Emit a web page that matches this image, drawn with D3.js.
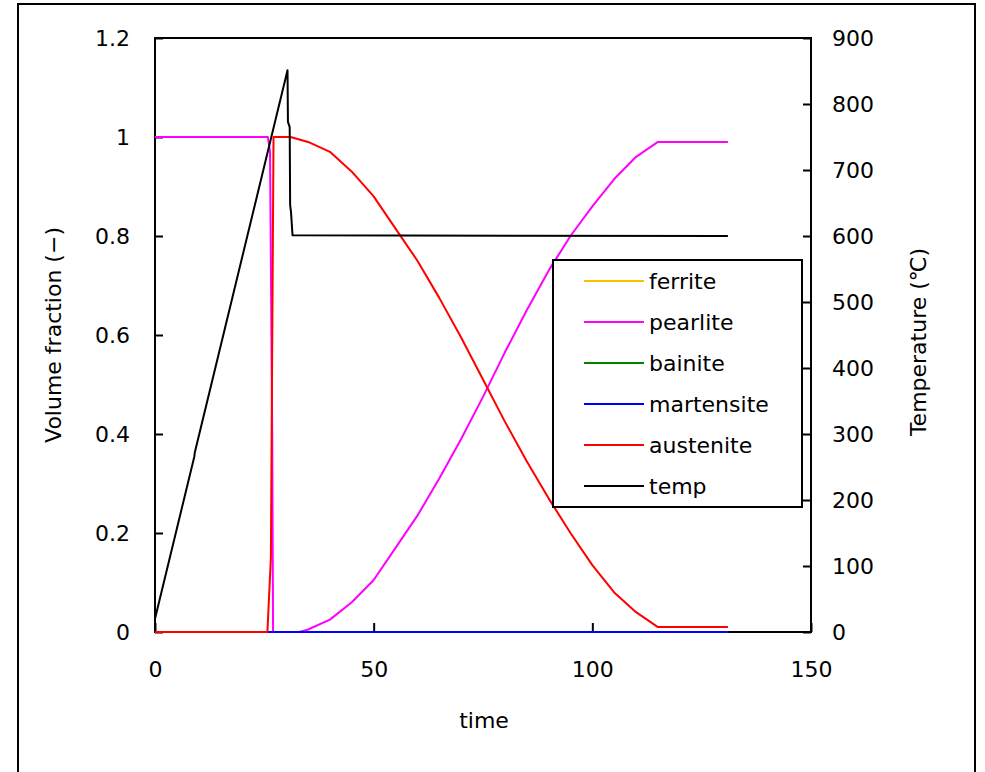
<!DOCTYPE html>
<html>
<head>
<meta charset="utf-8">
<script src="https://cdn.jsdelivr.net/npm/d3@7"></script>
<style>
  html, body { margin: 0; padding: 0; background: #fff; }
  svg text { font-family: "DejaVu Sans", sans-serif; fill: #000; }
</style>
</head>
<body>
<svg id="chart" width="985" height="772"></svg>
<script>
// Phase fractions (left axis) and temperature (right axis) against time
const seriesNames = ["ferrite", "pearlite", "bainite", "martensite", "austenite", "temp"];
const seriesColors = ["#FFC000", "#FF00FF", "#008000", "#0000FF", "#FF0000", "#000000"];

const ferriteTime = [0, 131];
const ferriteFrac = [0, 0];

const pearliteTime = [0, 25.8, 26.3, 26.8, 27.0, 33, 35, 40, 45, 50, 55, 60, 65, 70, 75, 80, 85, 90, 95, 100, 105, 110, 115, 131];
const pearliteFrac = [1, 1, 0.97, 0.4, 0, 0, 0.005, 0.025, 0.06, 0.105, 0.17, 0.235, 0.31, 0.39, 0.475, 0.565, 0.65, 0.73, 0.8, 0.86, 0.915, 0.96, 0.99, 0.99];

const bainiteTime = [0, 131];
const bainiteFrac = [0, 0];

const martensiteTime = [0, 131];
const martensiteFrac = [0, 0];

const austeniteTime = [0, 25.7, 26.5, 27.1, 31, 35, 40, 45, 50, 55, 60, 65, 70, 75, 80, 85, 90, 95, 100, 105, 110, 115, 131];
const austeniteFrac = [0, 0, 0.15, 1, 1, 0.99, 0.97, 0.93, 0.88, 0.815, 0.75, 0.675, 0.595, 0.51, 0.425, 0.345, 0.27, 0.2, 0.135, 0.08, 0.04, 0.01, 0.01];

const tempTime = [0, 9, 9.1, 30.3, 30.4, 30.8, 30.9, 31.1, 31.45, 131];
const tempValue = [20, 266, 272, 851, 773, 765, 647, 636, 601, 600];

const xTicks = [0, 50, 100, 150];
const yLeftTicks = [0, 0.2, 0.4, 0.6, 0.8, 1, 1.2];
const yRightTicks = [0, 100, 200, 300, 400, 500, 600, 700, 800, 900];

const svg = d3.select("#chart");
const plot = { left: 155, right: 811, top: 38, bottom: 632 };

const x = d3.scaleLinear().domain([0, 150]).range([plot.left, plot.right]);
const yL = d3.scaleLinear().domain([0, 1.2]).range([plot.bottom, plot.top]);
const yR = d3.scaleLinear().domain([0, 900]).range([plot.bottom, plot.top]);

// outer frame (runs past the bottom edge)
svg.append("rect")
  .attr("x", 18).attr("y", 4).attr("width", 957).attr("height", 800)
  .attr("fill", "none").attr("stroke", "#000").attr("stroke-width", 2);

// plot-area border
svg.append("rect")
  .attr("x", plot.left).attr("y", plot.top)
  .attr("width", plot.right - plot.left).attr("height", plot.bottom - plot.top)
  .attr("fill", "none").attr("stroke", "#000").attr("stroke-width", 2);

// axes with inward ticks
const fontSize = 22;
const xAxis = d3.axisBottom(x).tickValues(xTicks).tickSizeInner(-9).tickSizeOuter(0).tickPadding(0);
const xg = svg.append("g").attr("transform", `translate(0,${plot.bottom})`).call(xAxis);
xg.select(".domain").remove();
xg.selectAll(".tick line").attr("stroke", "#000").attr("stroke-width", 2);
xg.selectAll(".tick text").attr("y", 45).attr("dy", 0).style("font-size", fontSize + "px");

const ylAxis = d3.axisLeft(yL).tickValues(yLeftTicks).tickSizeInner(-8).tickSizeOuter(0).tickFormat(d3.format("~g"));
const ylg = svg.append("g").attr("transform", `translate(${plot.left},0)`).call(ylAxis);
ylg.select(".domain").remove();
ylg.selectAll(".tick line").attr("stroke", "#000").attr("stroke-width", 2);
ylg.selectAll(".tick text").attr("x", -25).attr("dy", "0.35em").style("font-size", fontSize + "px");

const yrAxis = d3.axisRight(yR).tickValues(yRightTicks).tickSizeInner(-8).tickSizeOuter(0);
const yrg = svg.append("g").attr("transform", `translate(${plot.right},0)`).call(yrAxis);
yrg.select(".domain").remove();
yrg.selectAll(".tick line").attr("stroke", "#000").attr("stroke-width", 2);
yrg.selectAll(".tick text").attr("x", 21).attr("dy", "0.35em").style("font-size", fontSize + "px");

// data lines, drawn over the plot border
const fracLine = d3.line().x(d => x(d[0])).y(d => yL(d[1]));
const tempLine = d3.line().x(d => x(d[0])).y(d => yR(d[1]));

const zip = (a, b) => a.map((v, i) => [v, b[i]]);

const fracSeries = [
  zip(ferriteTime, ferriteFrac),
  zip(pearliteTime, pearliteFrac),
  zip(bainiteTime, bainiteFrac),
  zip(martensiteTime, martensiteFrac),
  zip(austeniteTime, austeniteFrac)
];

const g = svg.append("g");
fracSeries.forEach((pts, i) => {
  g.append("path").datum(pts)
    .attr("d", fracLine)
    .attr("fill", "none")
    .attr("stroke", seriesColors[i])
    .attr("stroke-width", 2)
    .attr("stroke-linejoin", "round");
});
g.append("path").datum(zip(tempTime, tempValue))
  .attr("d", tempLine)
  .attr("fill", "none")
  .attr("stroke", seriesColors[5])
  .attr("stroke-width", 2)
  .attr("stroke-linejoin", "round");

// axis titles
svg.append("text").attr("x", 484).attr("y", 728).attr("text-anchor", "middle")
  .style("font-size", fontSize + "px").text("time");
svg.append("text").attr("transform", "translate(61,335) rotate(-90)").attr("text-anchor", "middle")
  .style("font-size", fontSize + "px").text("Volume fraction (−)");
svg.append("text").attr("transform", "translate(926,342) rotate(-90)").attr("text-anchor", "middle")
  .style("font-size", fontSize + "px").text("Temperature (℃)");

// legend
const legend = svg.append("g");
legend.append("rect")
  .attr("x", 553).attr("y", 260).attr("width", 249).attr("height", 247)
  .attr("fill", "#fff").attr("stroke", "#000").attr("stroke-width", 2);
seriesNames.forEach((name, i) => {
  const yy = 281 + i * 41;
  legend.append("line")
    .attr("x1", 584).attr("x2", 644).attr("y1", yy).attr("y2", yy)
    .attr("stroke", seriesColors[i]).attr("stroke-width", 2);
  legend.append("text")
    .attr("x", 649).attr("y", yy).attr("dy", "0.35em")
    .style("font-size", "22px").text(name);
});
</script>
</body>
</html>
